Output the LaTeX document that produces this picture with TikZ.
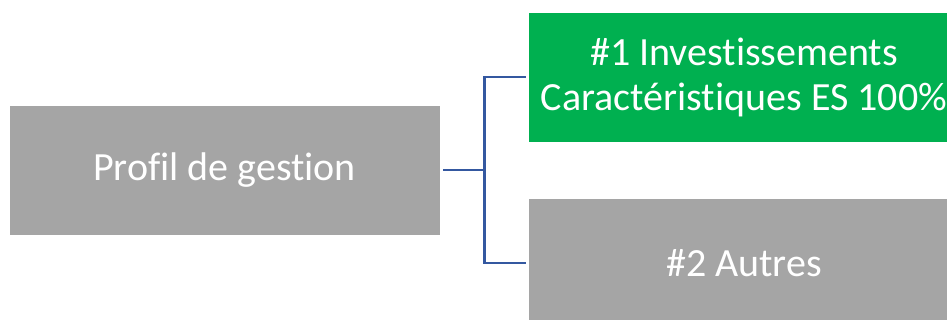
\documentclass[tikz,border=0pt]{standalone}
\usepackage{fontspec}
\setmainfont[Ligatures=NoCommon]{Carlito}
\definecolor{boxgray}{RGB}{165,165,165}
\definecolor{boxgreen}{RGB}{0,176,80}
\definecolor{linkblue}{RGB}{52,88,160}
\tikzset{
  profilbox/.style={rectangle,draw=white,line width=0.6pt,text=white,minimum width=431,minimum height=130,inner sep=0pt,align=center,font=\fontsize{40}{45}\selectfont},
  link/.style={linkblue,line width=2.8pt}
}
\begin{document}
\begin{tikzpicture}[x=1pt,y=-1pt]
\useasboundingbox (0,0) rectangle (947,320);

\node[profilbox,fill=boxgray] (profil) at (224.5,170) {Profil de gestion};
\node[profilbox,fill=boxgreen] (invest) at (744,77) {\#1 Investissements\\Caractéristiques ES 100\%};
\node[profilbox,fill=boxgray] (autres) at (744,263) {\#2 Autres};

\coordinate (split) at ([xshift=44]profil.east);

\draw[link] ([xshift=3]profil.east) -- (split);
\draw[link] (split) |- ([xshift=-2]invest.west);
\draw[link] (split) |- ([xshift=-2]autres.west);
\end{tikzpicture}
\end{document}
